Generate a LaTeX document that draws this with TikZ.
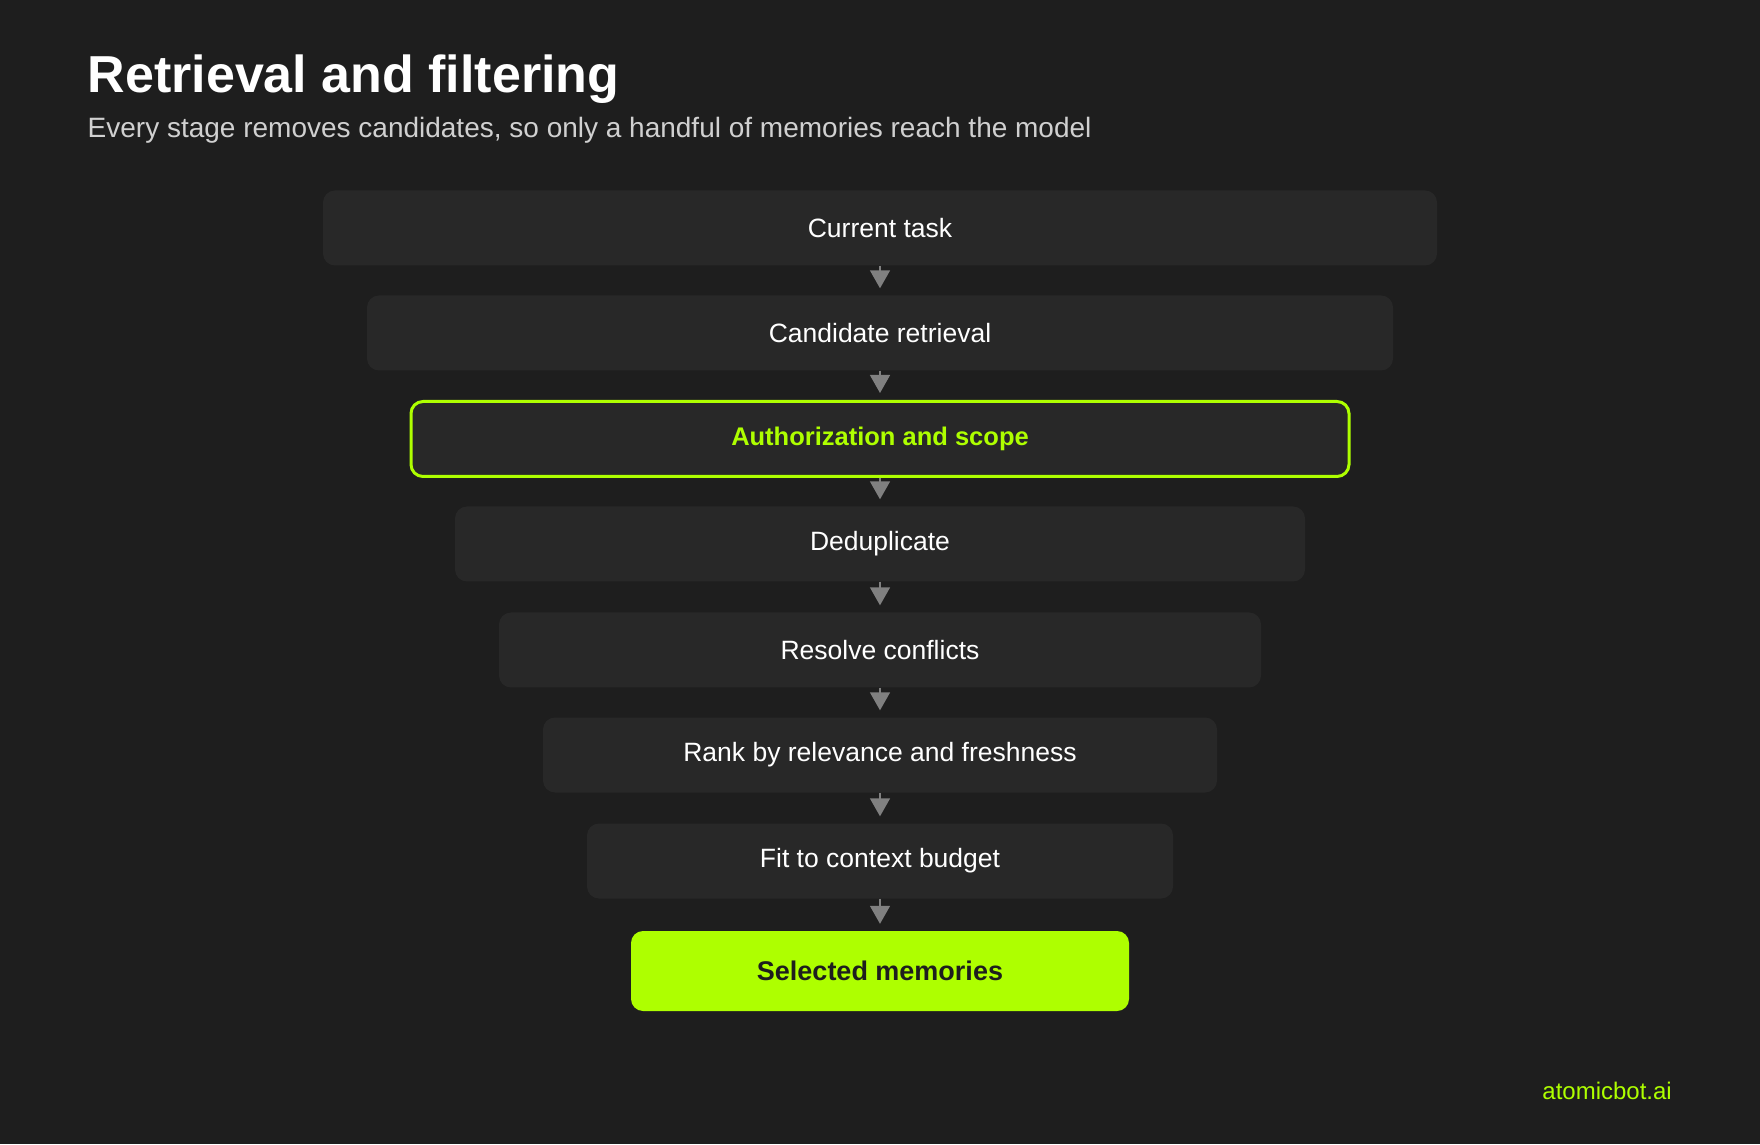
\documentclass[tikz,border=0pt]{standalone}
\usepackage{fontspec}
\setmainfont{Liberation Sans}
\usetikzlibrary{arrows.meta}

\definecolor{bgColor}{RGB}{30,30,30}
\definecolor{boxColor}{RGB}{40,40,40}
\definecolor{limeColor}{RGB}{174,255,0}
\definecolor{arrowColor}{RGB}{128,128,128}
\definecolor{subColor}{RGB}{208,208,208}

\tikzset{
  stage/.style={fill=boxColor,rounded corners=12pt,minimum height=75pt,inner sep=0pt,
    text=white,font=\fontsize{26.5}{30}\selectfont},
  focusstage/.style={stage,draw=limeColor,line width=3pt,text=limeColor,
    font=\fontsize{25.5}{30}\selectfont\bfseries},
  resultstage/.style={stage,fill=limeColor,text=bgColor,minimum height=80pt,
    font=\fontsize{27}{30}\selectfont\bfseries},
  flow/.style={draw=arrowColor,line width=1.5pt,shorten >=7pt,
    -{Triangle[width=20pt,length=18pt]},arrowColor}
}

\begin{document}
\begin{tikzpicture}[x=1pt,y=1pt]
\path[use as bounding box,fill=bgColor] (0,0) rectangle (1760,1144);

% heading
\node[anchor=base west,inner sep=0pt,text=white,font=\fontsize{52}{60}\selectfont\bfseries] (title) at (87.5,1051) {Retrieval and filtering};
\node[anchor=base west,inner sep=0pt,text=subColor,font=\fontsize{28}{32}\selectfont] (subtitle) at (87.5,1006) {Every stage removes candidates, so only a handful of memories reach the model};

% funnel stages
\node[stage,minimum width=1114pt] (task) at (880,916) {Current task};
\node[stage,minimum width=1026pt] (retrieve) at (880,811) {Candidate retrieval};
\node[focusstage,minimum width=938pt] (auth) at (880,705) {Authorization and scope};
\node[stage,minimum width=850pt] (dedup) at (880,600) {Deduplicate};
\node[stage,minimum width=762pt] (conflict) at (880,494) {Resolve conflicts};
\node[stage,minimum width=674pt] (rank) at (880,389) {Rank by relevance and freshness};
\node[stage,minimum width=586pt] (budget) at (880,283) {Fit to context budget};
\node[resultstage,minimum width=498pt] (selected) at (880,173) {Selected memories};

\draw[flow] (task.south) -- (retrieve.north);
\draw[flow] (retrieve.south) -- (auth.north);
\draw[flow] (auth.south) -- (dedup.north);
\draw[flow] (dedup.south) -- (conflict.north);
\draw[flow] (conflict.south) -- (rank.north);
\draw[flow] (rank.south) -- (budget.north);
\draw[flow] (budget.south) -- (selected.north);

\node[anchor=base east,inner sep=0pt,text=limeColor,font=\fontsize{24}{28}\selectfont] (brand) at (1672,45) {atomicbot.ai};
\end{tikzpicture}
\end{document}
